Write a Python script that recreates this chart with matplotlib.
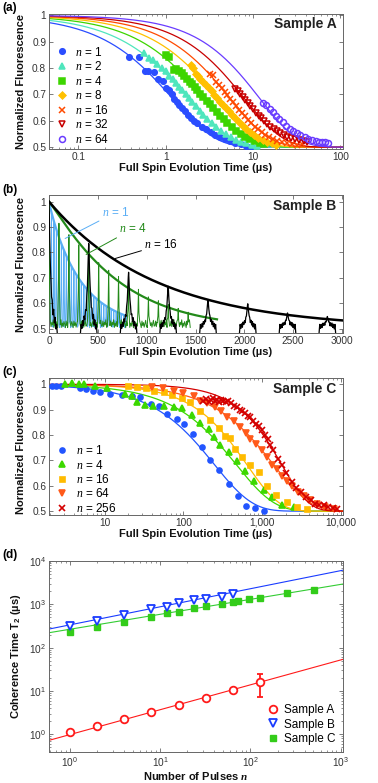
import numpy as np
import matplotlib
matplotlib.use("Agg")
import matplotlib.pyplot as plt
from matplotlib.ticker import FuncFormatter, LogLocator, NullFormatter, MultipleLocator

plt.rcParams['font.family'] = ['Liberation Sans', 'DejaVu Sans']
plt.rcParams['mathtext.fontset'] = 'custom'
plt.rcParams['mathtext.rm'] = 'Liberation Sans'
plt.rcParams['mathtext.it'] = 'Liberation Serif:italic'
plt.rcParams['mathtext.bf'] = 'Liberation Sans:bold'
try:
    plt.rcParams['mathtext.bfit'] = 'Liberation Serif:italic:bold'
except KeyError:
    pass

# ---------------- (a) Sample A ----------------
a_labels = ["1", "2", "4", "8", "16", "32", "64"]
a_T = [1.2, 1.85, 2.8, 4.0, 5.5, 8.0, 12.0]      # fit decay time (us)
a_p = [0.88, 0.88, 0.9, 0.92, 0.95, 0.97, 1.0]   # stretch exponent

tA1 = [0.38, 0.49, 0.58, 0.62, 0.74, 0.81, 0.92, 1.0, 1.1, 1.18, 1.26, 1.34, 1.42, 1.55, 1.65,
       1.8, 1.95, 2.1, 2.3, 2.6, 2.9, 3.3, 3.7, 4.2, 4.8, 5.5, 6.3, 7.2, 8.3, 9.5]
fA1 = [0.842, 0.841, 0.790, 0.788, 0.785, 0.760, 0.752, 0.725, 0.715, 0.700, 0.683, 0.672, 0.660,
       0.650, 0.638, 0.622, 0.612, 0.600, 0.590, 0.578, 0.569, 0.557, 0.548, 0.540, 0.531, 0.524,
       0.517, 0.511, 0.506, 0.502]
tA2 = [0.56, 0.65, 0.72, 0.8, 0.9, 1.0, 1.1, 1.2, 1.3, 1.42, 1.55, 1.7, 1.85, 2.0, 2.2, 2.45, 2.7,
       3.0, 3.4, 3.8, 4.3, 4.9, 5.6, 6.4, 7.3, 8.4, 9.7, 11.2]
fA2 = [0.858, 0.838, 0.830, 0.816, 0.800, 0.787, 0.770, 0.758, 0.745, 0.730, 0.716, 0.700, 0.685,
       0.672, 0.655, 0.638, 0.622, 0.607, 0.590, 0.576, 0.562, 0.549, 0.538, 0.529, 0.521, 0.514,
       0.509, 0.505]
tA4 = [1.0, 1.08, 1.25, 1.32, 1.42, 1.52, 1.63, 1.75, 1.88, 2.0, 2.15, 2.3, 2.5, 2.7, 2.95, 3.2,
       3.5, 3.85, 4.2, 4.6, 5.1, 5.7, 6.4, 7.2, 8.1, 9.2, 10.5, 12.0, 13.5]
fA4 = [0.850, 0.842, 0.794, 0.797, 0.790, 0.781, 0.770, 0.760, 0.748, 0.738, 0.727, 0.716, 0.703,
       0.690, 0.675, 0.662, 0.647, 0.632, 0.619, 0.605, 0.591, 0.576, 0.563, 0.551, 0.540, 0.531,
       0.523, 0.516, 0.512]
tA8 = [1.95, 2.05, 2.2, 2.35, 2.5, 2.7, 2.9, 3.1, 3.35, 3.6, 3.9, 4.2, 4.55, 4.9, 5.3, 5.8, 6.3,
       6.9, 7.6, 8.4, 9.3, 10.3, 11.5, 13.0, 14.6, 16.5, 18.5]
fA8 = [0.810, 0.800, 0.779, 0.770, 0.758, 0.748, 0.735, 0.724, 0.713, 0.699, 0.687, 0.673, 0.661,
       0.648, 0.636, 0.621, 0.609, 0.595, 0.582, 0.569, 0.557, 0.546, 0.536, 0.527, 0.520, 0.514,
       0.510]
tA16 = [3.2, 3.5, 3.8, 4.1, 4.4, 4.75, 5.1, 5.5, 5.9, 6.4, 6.9, 7.5, 8.1, 8.8, 9.6, 10.5, 11.5,
        12.6, 13.9, 15.4, 17.0, 19.0, 21.5, 24.5, 28, 32, 36]
fA16 = [0.777, 0.773, 0.746, 0.734, 0.724, 0.708, 0.696, 0.684, 0.670, 0.656, 0.642, 0.630, 0.617,
        0.603, 0.591, 0.578, 0.567, 0.556, 0.546, 0.537, 0.530, 0.523, 0.518, 0.515, 0.512, 0.510,
        0.512]
tA32 = [6.3, 6.7, 7.1, 7.6, 8.1, 8.7, 9.3, 10.0, 10.8, 11.6, 12.5, 13.5, 14.6, 15.8, 17.2, 18.7,
        20.4, 22.4, 24.7, 27.3, 30.5, 34, 38, 42]
fA32 = [0.722, 0.712, 0.702, 0.690, 0.679, 0.667, 0.656, 0.643, 0.631, 0.620, 0.609, 0.598, 0.588,
        0.578, 0.568, 0.560, 0.552, 0.545, 0.540, 0.535, 0.531, 0.527, 0.522, 0.518]
tA64 = [13, 14, 15.5, 17, 18.5, 20, 22, 24, 26.5, 29, 32, 35, 39, 43, 47, 52, 57, 62, 67, 72]
fA64 = [0.668, 0.660, 0.645, 0.632, 0.618, 0.605, 0.594, 0.582, 0.570, 0.560, 0.552, 0.545, 0.538,
        0.532, 0.527, 0.523, 0.521, 0.520, 0.518, 0.516]

# ---------------- (b) Sample B ----------------
# revival peaks of the measured traces
b1_peak_t = [0, 25, 51, 76, 102, 127, 153, 178, 204, 229, 255, 280, 306, 331, 357, 382, 408, 433,
             459, 484, 510, 535, 561, 586, 612, 637, 663, 688, 714, 739, 765, 790]
b1_peak_f = [1.0, 0.955, 0.918, 0.886, 0.858, 0.830, 0.806, 0.784, 0.764, 0.744, 0.727, 0.710,
             0.695, 0.681, 0.668, 0.657, 0.645, 0.635, 0.625, 0.617, 0.608, 0.601, 0.593, 0.587,
             0.581, 0.575, 0.570, 0.565, 0.560, 0.556, 0.552, 0.549]
b4_peak_t = [0, 102, 204, 305, 407, 509, 611, 712, 814, 916, 1018, 1120, 1221, 1323, 1425]
b4_peak_f = [1.0, 0.915, 0.870, 0.830, 0.795, 0.760, 0.730, 0.705, 0.680, 0.655, 0.625, 0.610,
             0.595, 0.580, 0.565]
b16_peak_t = [0, 407, 815, 1220, 1628, 2035, 2442, 2850]
b16_peak_f = [1.0, 0.835, 0.722, 0.667, 0.614, 0.598, 0.562, 0.548]
# baseline noise
b1_noise = [0.012, 0.026, 0.006, 0.020, 0.015, 0.030, 0.008, 0.018, 0.024, 0.004, 0.016, 0.028]
b4_noise = [0.012, 0.030, 0.008, 0.025, 0.015, 0.035, 0.005, 0.022, 0.010, 0.028, 0.018, 0.004,
            0.030, 0.012, 0.024, 0.006, 0.020, 0.033, 0.010]
b16_dt = [-85, -78, -70, -62, -55, -48, -40, -33, -26, -20, -14, -8, -3, 0, 3, 8, 14, 20, 26, 33,
          40, 48, 55, 62, 70, 78, 85]
b16_frac = [0, 0, 0, 0.05, 0.03, 0.10, 0.08, 0.18, 0.20, 0.35, 0.48, 0.72, 0.92, 1.0, 0.90, 0.68,
            0.50, 0.36, 0.25, 0.20, 0.10, 0.12, 0.04, 0.06, 0, 0, 0]
b16_noise = [-0.022, 0.012, -0.004, 0.010, -0.002, 0.012, 0.004, 0.010, 0.0, 0.008, 0.0, 0.0, 0.0,
             0.0, 0.0, 0.0, 0.0, 0.006, -0.004, 0.010, 0.0, 0.012, -0.002, 0.010, -0.006, 0.012,
             -0.024]
b_T = [330, 720, 1100]
b_p = [0.95, 1.1, 1.0]
b_tend = [800, 1720, 3000]

# ---------------- (c) Sample C ----------------
c_labels = ["1", "4", "16", "64", "256"]
c_T = [248, 470, 640, 1400, 1780]
c_p = [0.9, 0.9, 1.05, 0.92, 1.25]
tC1 = [2.1, 2.4, 2.8, 4.9, 5.8, 7.0, 8.8, 11.8, 16.6, 22, 28, 38.5, 48.5, 62, 83, 103, 132, 173,
       221, 288, 378, 492, 631, 826, 1054]
fC1 = [0.994, 0.993, 0.994, 0.985, 0.982, 0.975, 0.970, 0.962, 0.958, 0.955, 0.948, 0.922, 0.916,
       0.883, 0.864, 0.844, 0.805, 0.752, 0.703, 0.661, 0.606, 0.559, 0.521, 0.513, 0.501]
tC4 = [3.1, 3.8, 4.65, 5.4, 7.6, 10.7, 18.3, 22, 25.7, 32.8, 41, 56, 75, 96, 129, 161, 210, 243,
       296, 378, 483, 616, 802, 1054, 1347, 1807, 2540]
fC4 = [1.003, 1.007, 1.003, 1.0, 0.994, 0.987, 0.962, 0.955, 0.930, 0.920, 0.915, 0.913, 0.909,
       0.905, 0.880, 0.846, 0.824, 0.791, 0.759, 0.733, 0.697, 0.658, 0.619, 0.582, 0.554, 0.526,
       0.515]
tC16 = [20, 26, 33, 42, 56, 72, 96, 123, 161, 220, 287, 343, 396, 460, 560, 714, 910, 1165, 1490,
        2100, 2800, 3700]
fC16 = [0.993, 0.990, 0.985, 0.975, 0.968, 0.958, 0.947, 0.932, 0.896, 0.860, 0.827, 0.795, 0.790,
        0.746, 0.713, 0.680, 0.654, 0.600, 0.563, 0.537, 0.518, 0.508]
tC64 = [40, 55, 75, 100, 136, 164, 200, 250, 300, 360, 440, 532, 620, 714, 850, 1010, 1170, 1350,
        1560, 1810, 2100, 2430, 2900, 3420, 4100, 5000, 6400, 8200]
fC64 = [0.990, 0.985, 0.975, 0.965, 0.955, 0.935, 0.925, 0.910, 0.895, 0.870, 0.855, 0.830, 0.810,
        0.785, 0.765, 0.740, 0.715, 0.680, 0.665, 0.640, 0.620, 0.600, 0.575, 0.560, 0.545, 0.530,
        0.518, 0.510]
tC256 = [180, 195, 210, 225, 240, 255, 270, 285, 300, 320, 345, 370, 400, 437, 480, 520, 560, 610,
         660, 714, 780, 850, 910, 1000, 1100, 1190, 1280, 1400, 1590, 1800, 2050, 2400, 2750,
         3100, 3600, 4150, 4800, 5400, 6100, 7000, 8000, 9000]
fC256 = [0.935, 0.942, 0.930, 0.940, 0.945, 0.935, 0.940, 0.932, 0.940, 0.936, 0.930, 0.935, 0.925,
         0.916, 0.910, 0.900, 0.896, 0.885, 0.875, 0.870, 0.855, 0.845, 0.837, 0.820, 0.800, 0.785,
         0.760, 0.740, 0.707, 0.680, 0.650, 0.615, 0.590, 0.575, 0.555, 0.543, 0.530, 0.525, 0.523,
         0.515, 0.512, 0.510]

# ---------------- (d) T2 vs n ----------------
nA = [1, 2, 4, 8, 16, 32, 64, 128]
T2A = [1.15, 1.58, 2.26, 3.22, 4.75, 7.0, 10.3, 16.4]
T2A_err_lo = [0, 0, 0, 0, 0, 0, 0, 9.2]
T2A_err_hi = [0, 0, 0, 0, 0, 0, 0, 8.1]
nB = [1, 2, 4, 8, 12, 16, 24, 32, 48, 64]
T2B = [316, 412, 567, 767, 884, 1050, 1260, 1330, 1500, 1750]
T2B_err_lo = [0, 0, 0, 0, 0, 0, 0, 0, 0, 250]
T2B_err_hi = [0, 0, 0, 0, 0, 0, 0, 0, 0, 550]
nC = [1, 2, 4, 8, 12, 16, 24, 32, 48, 64, 72, 96, 128, 256, 512]
T2C = [234, 305, 398, 518, 620, 677, 810, 915, 1036, 1150, 1170, 1330, 1425, 1790, 2180]
# power-law fits T2 = a * n^k
fit_a = [0.985, 336, 266]
fit_k = [0.574, 0.417, 0.345]


def stretched(t, T, p):
    return 0.5 + 0.5 * np.exp(-(np.asarray(t) / T) ** p)


def style(ax):
    for s in ax.spines.values():
        s.set_color('#666666')
        s.set_linewidth(0.7)
    ax.tick_params(which='both', direction='in', top=True, right=True, colors='#666666',
                   labelcolor='#333333', labelsize=7.3, pad=2)
    ax.tick_params(which='major', length=3, width=0.6)
    ax.tick_params(which='minor', length=1.6, width=0.5)


fig = plt.figure(figsize=(3.78, 7.83), dpi=100)
W = 0.7765
axA = fig.add_axes([0.1296, 0.8097, W, 0.1724])
axB = fig.add_axes([0.1296, 0.5747, W, 0.1762])
axC = fig.add_axes([0.1296, 0.3423, W, 0.1750])
axD = fig.add_axes([0.1296, 0.0396, W, 0.2439])
lab_kw = dict(fontsize=8, fontweight='bold', color='#111111')

# ---- panel (a)
a_t = [tA1, tA2, tA4, tA8, tA16, tA32, tA64]
a_f = [fA1, fA2, fA4, fA8, fA16, fA32, fA64]
a_col = ['#2a4dff', '#4fe6bd', '#3dd500', '#ffc000', '#ff4a00', '#c80000', '#6a3cff']
a_mk = ['o', '^', 's', 'D', 'x', 'v', 'o']
a_ms = [4.0, 4.2, 3.8, 3.5, 4.5, 4.5, 4.3]
a_fill = [True, True, True, True, True, False, False]
tt = np.logspace(np.log10(0.046), np.log10(106), 400)
for i in range(7):
    axA.plot(tt, stretched(tt, a_T[i], a_p[i]), color=a_col[i], lw=0.9, zorder=2)
handles = []
for i in range(7):
    h, = axA.plot(a_t[i], a_f[i], ls='none', marker=a_mk[i], ms=a_ms[i], color=a_col[i],
                  mfc=a_col[i] if a_fill[i] else 'none', mew=1.1, zorder=3,
                  label=r'$n$ = ' + a_labels[i])
    handles.append(h)
axA.set_xscale('log')
axA.set_xlim(0.046, 106)
axA.set_ylim(0.493, 1.005)
axA.set_xticks([0.1, 1, 10, 100])
axA.set_xticklabels(['0.1', '1', '10', '100'])
axA.set_yticks([0.5, 0.6, 0.7, 0.8, 0.9, 1.0])
axA.set_yticklabels(['0.5', '0.6', '0.7', '0.8', '0.9', '1'])
axA.legend(handles=handles, loc='upper left', bbox_to_anchor=(0.0, 0.81), frameon=False,
           fontsize=8.5, handlelength=1.2, handletextpad=0.5, labelspacing=0.13,
           borderaxespad=0.3, borderpad=0.2)
axA.text(0.98, 0.925, 'Sample A', transform=axA.transAxes, ha='right', va='center',
         fontsize=10, fontweight='bold', color='#222222')
style(axA)
axA.set_ylabel('Normalized Fluorescence', **lab_kw)
axA.yaxis.set_label_coords(-0.08, 0.5)
axA.set_xlabel('Full Spin Evolution Time (\u00b5s)', va='top', **lab_kw)
axA.xaxis.set_label_coords(0.5, -0.1)

# ---- panel (b)
b_col = ['#5aaef5', '#238a1a', '#000000']
# n = 1 trace
xs, ys = [], []
for k, (c, h) in enumerate(zip(b1_peak_t, b1_peak_f)):
    if c > 0:
        xs += [c - 8, c - 3]
        ys += [0.5 + b1_noise[k % 12], 0.5 + 0.55 * (h - 0.5)]
    xs += [c, c + 3, c + 8, c + 12.5]
    ys += [h, 0.5 + 0.5 * (h - 0.5), 0.5 + b1_noise[(k + 5) % 12], 0.5 + b1_noise[(k + 3) % 12]]
axB.plot(xs, ys, color=b_col[0], lw=0.7, zorder=1)
tb = np.linspace(0, b_tend[0], 300)
axB.plot(tb, stretched(tb, b_T[0], b_p[0]), color=b_col[0], lw=1.6, zorder=2)
# n = 4 trace
xs, ys = [], []
for k, (c, h) in enumerate(zip(b4_peak_t, b4_peak_f)):
    if c > 0:
        xs += [c - 13, c - 5]
        ys += [0.5 + b4_noise[(3 * k) % 19], 0.5 + 0.45 * (h - 0.5)]
    xs += [c, c + 5, c + 13]
    ys += [h, 0.5 + 0.4 * (h - 0.5), 0.5 + b4_noise[(3 * k + 1) % 19]]
    for j in range(10):
        xs.append(c + 21 + 7.5 * j)
        ys.append(0.5 + b4_noise[(3 * k + 2 + j) % 19])
axB.plot(xs[:-9], ys[:-9], color=b_col[1], lw=0.7, zorder=3)
tb = np.linspace(0, b_tend[1], 300)
axB.plot(tb, stretched(tb, b_T[1], b_p[1]), color=b_col[1], lw=1.6, zorder=4)
# n = 16 trace (segments around each revival)
for k, (c, h) in enumerate(zip(b16_peak_t, b16_peak_f)):
    seg_t = [c + d for d in b16_dt if c + d >= 0]
    seg_f = [0.505 + fr * (h - 0.505) + nz for d, fr, nz in zip(b16_dt, b16_frac, b16_noise)
             if c + d >= 0]
    axB.plot(seg_t, seg_f, color=b_col[2], lw=0.9, zorder=5)
tb = np.linspace(0, b_tend[2], 400)
axB.plot(tb, stretched(tb, b_T[2], b_p[2]), color=b_col[2], lw=1.8, zorder=6)
# labels
ann = [(r'$n$ = 1', (165, 0.855), (540, 0.957)),
       (r'$n$ = 4', (380, 0.792), (720, 0.893)),
       (r'$n$ = 16', (676, 0.776), (975, 0.830))]
for (txt, xy, xyt), col in zip(ann, b_col):
    axB.annotate(txt, xy=xy, xytext=xyt, color=col, fontsize=8.5, ha='left', va='center',
                 arrowprops=dict(arrowstyle='-', color=col, lw=0.7, shrinkA=0, shrinkB=0),
                 zorder=7)
axB.set_xlim(0, 3005)
axB.set_ylim(0.483, 1.026)
axB.xaxis.set_major_locator(MultipleLocator(500))
axB.set_yticks([0.5, 0.6, 0.7, 0.8, 0.9, 1.0])
axB.set_yticklabels(['0.5', '0.6', '0.7', '0.8', '0.9', '1'])
axB.text(0.98, 0.922, 'Sample B', transform=axB.transAxes, ha='right', va='center',
         fontsize=10, fontweight='bold', color='#222222')
style(axB)
axB.set_ylabel('Normalized Fluorescence', **lab_kw)
axB.yaxis.set_label_coords(-0.08, 0.5)
axB.set_xlabel('Full Spin Evolution Time (\u00b5s)', va='top', **lab_kw)
axB.xaxis.set_label_coords(0.5, -0.105)

# ---- panel (c)
c_t = [tC1, tC4, tC16, tC64, tC256]
c_f = [fC1, fC4, fC16, fC64, fC256]
c_col = ['#2255ff', '#3cd800', '#ffbb00', '#ff5a1a', '#d40000']
c_mk = ['o', '^', 's', 'v', 'x']
c_ms = [3.6, 4.3, 3.6, 4.3, 4.6]
tt = np.logspace(np.log10(1.95), np.log10(10600), 400)
for i in range(5):
    axC.plot(tt, stretched(tt, c_T[i], c_p[i]), color=c_col[i], lw=0.9, zorder=2)
handles = []
for i in range(5):
    h, = axC.plot(c_t[i], c_f[i], ls='none', marker=c_mk[i], ms=c_ms[i], color=c_col[i],
                  mew=1.2, zorder=3, label=r'$n$ = ' + c_labels[i])
    handles.append(h)
axC.set_xscale('log')
axC.set_xlim(1.95, 10600)
axC.set_ylim(0.485, 1.025)
axC.set_xticks([10, 100, 1000, 10000])
axC.xaxis.set_major_formatter(FuncFormatter(lambda v, pos: '{:,.0f}'.format(v)))
axC.set_yticks([0.5, 0.6, 0.7, 0.8, 0.9, 1.0])
axC.set_yticklabels(['0.5', '0.6', '0.7', '0.8', '0.9', '1'])
axC.legend(handles=handles, loc='upper left', bbox_to_anchor=(0.0, 0.56), frameon=False,
           fontsize=8.5, handlelength=1.2, handletextpad=0.6, labelspacing=0.12,
           borderaxespad=0.3, borderpad=0.2)
axC.text(0.98, 0.92, 'Sample C', transform=axC.transAxes, ha='right', va='center',
         fontsize=10, fontweight='bold', color='#222222')
style(axC)
axC.set_ylabel('Normalized Fluorescence', **lab_kw)
axC.yaxis.set_label_coords(-0.08, 0.5)
axC.set_xlabel('Full Spin Evolution Time (\u00b5s)', va='top', **lab_kw)
axC.xaxis.set_label_coords(0.5, -0.105)

# ---- panel (d)
nn = np.logspace(np.log10(0.585), np.log10(1050), 100)
d_col = ['#ff1a1a', '#1a3cff', '#33cc33']
for a, k, col in zip(fit_a, fit_k, d_col):
    axD.plot(nn, a * nn ** k, color=col, lw=0.8, zorder=2)
eA = axD.errorbar(nA, T2A, yerr=[T2A_err_lo, T2A_err_hi], ls='none', marker='o', ms=5.5,
                  mfc='white', mec=d_col[0], mew=1.3, ecolor=d_col[0], elinewidth=1.3,
                  capsize=2.5, zorder=3)
eB = axD.errorbar(nB, T2B, yerr=[T2B_err_lo, T2B_err_hi], ls='none', marker='v', ms=6,
                  mfc='white', mec=d_col[1], mew=1.3, ecolor=d_col[1], elinewidth=1.0,
                  capsize=0, zorder=3)
pC, = axD.plot(nC, T2C, ls='none', marker='s', ms=5, color='#33cc1a', zorder=3)
axD.set_xscale('log')
axD.set_yscale('log')
axD.set_xlim(0.585, 1050)
axD.set_ylim(0.39, 1e4)
axD.xaxis.set_major_locator(LogLocator(base=10, numticks=10))
axD.yaxis.set_major_locator(LogLocator(base=10, numticks=10))
axD.xaxis.set_minor_locator(LogLocator(base=10, subs=np.arange(2, 10), numticks=20))
axD.yaxis.set_minor_locator(LogLocator(base=10, subs=np.arange(2, 10), numticks=20))
axD.xaxis.set_minor_formatter(NullFormatter())
axD.yaxis.set_minor_formatter(NullFormatter())
axD.legend([eA[0], eB[0], pC], ['Sample A', 'Sample B', 'Sample C'], loc='lower right',
           frameon=False, fontsize=8.5, handlelength=1.0, handletextpad=0.4, labelspacing=0.2,
           borderaxespad=0.2, numpoints=1)
style(axD)
axD.set_ylabel('Coherence Time T$_\\mathbf{2}$ (\u00b5s)', **lab_kw)
axD.yaxis.set_label_coords(-0.09, 0.5)
try:
    axD.set_xlabel(r'Number of Pulses $\mathbfit{n}$', va='top', **lab_kw)
    fig.canvas.draw()
except Exception:
    axD.set_xlabel(r'Number of Pulses $n$', va='top', **lab_kw)
axD.xaxis.set_label_coords(0.5, -0.094)

# panel letters
for y, s in zip([0.990, 0.757, 0.525, 0.291], ['(a)', '(b)', '(c)', '(d)']):
    fig.text(0.005, y, s, fontsize=8.5, fontweight='bold', va='center', ha='left')

fig.savefig('out.png', dpi=100)
